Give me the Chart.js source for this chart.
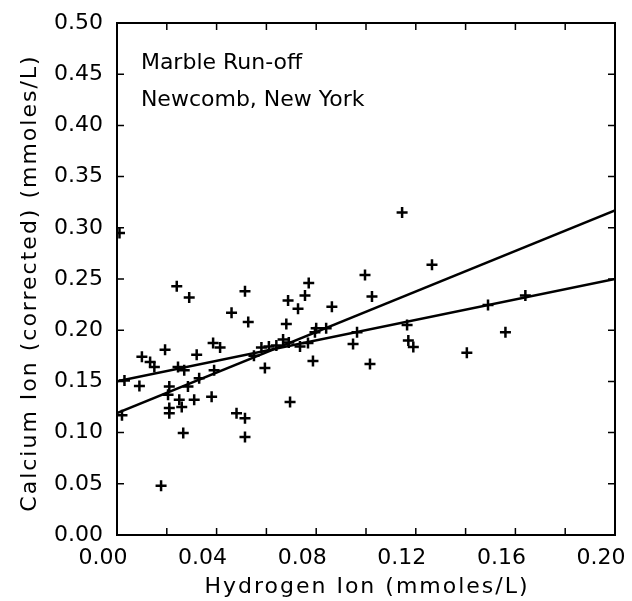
<!DOCTYPE html>
<html>
<head>
<meta charset="utf-8">
<script src="https://cdn.jsdelivr.net/npm/chart.js@4/dist/chart.umd.min.js"></script>
<style>
  html, body { margin: 0; padding: 0; background: #fff; }
  #wrap { width: 632px; height: 601px; }
</style>
</head>
<body>
<div id="wrap"><canvas id="chart-calcium" width="632" height="601"></canvas></div>
<script>
// ---------------- data ----------------
const hydrogenIon = [0.001, 0.024, 0.029, 0.0514, 0.046, 0.0527, 0.010, 0.0193, 0.0133, 0.015,
    0.032, 0.0386, 0.0414, 0.0245, 0.027, 0.003, 0.009, 0.002, 0.021, 0.0205,
    0.021, 0.021, 0.025, 0.026, 0.0285, 0.031, 0.033, 0.039, 0.038, 0.048,
    0.0514, 0.0266, 0.0514, 0.0594, 0.055, 0.058, 0.061, 0.064, 0.0177, 0.1145,
    0.1265, 0.0996, 0.1024, 0.077, 0.0755, 0.0687, 0.0727, 0.0863, 0.068, 0.0667,
    0.069, 0.0735, 0.0767, 0.0795, 0.080, 0.084, 0.0787, 0.0695, 0.0964, 0.0948,
    0.1016, 0.1165, 0.117, 0.119, 0.149, 0.164, 0.156, 0.1405];
const calciumIon = [0.295, 0.243, 0.232, 0.238, 0.217, 0.208, 0.174, 0.181, 0.169, 0.164,
    0.176, 0.1875, 0.183, 0.164, 0.161, 0.151, 0.1455, 0.117, 0.145, 0.137,
    0.124, 0.119, 0.132, 0.125, 0.145, 0.132, 0.153, 0.161, 0.135, 0.119,
    0.114, 0.0996, 0.0957, 0.163, 0.175, 0.183, 0.184, 0.185, 0.048, 0.315,
    0.264, 0.254, 0.233, 0.246, 0.234, 0.229, 0.221, 0.223, 0.206, 0.191,
    0.188, 0.184, 0.1875, 0.198, 0.202, 0.202, 0.170, 0.130, 0.198, 0.1865,
    0.167, 0.205, 0.190, 0.1836, 0.2246, 0.234, 0.198, 0.178];

// two fitted lines
const fitX = [0.0, 0.20];
const fitSteep = [0.119, 0.317];
const fitFlat = [0.150, 0.250];

const xTicks = [0.00, 0.04, 0.08, 0.12, 0.16, 0.20];
const yTicks = [0.00, 0.05, 0.10, 0.15, 0.20, 0.25, 0.30, 0.35, 0.40, 0.45, 0.50];

const xTitle = "Hydrogen Ion (mmoles/L)";
const yTitle = "Calcium Ion (corrected) (mmoles/L)";
const noteLines = ["Marble Run-off", "Newcomb, New York"];
const notePos = [[0.0096, 0.461], [0.0096, 0.425]];

const FONT = "'DejaVu Sans', sans-serif";

// frame, inward tick marks on all four sides, axis titles and the note
const framePlugin = {
    id: 'frame',
    afterDraw(chart) {
        const ctx = chart.ctx;
        const a = chart.chartArea;
        const xs = chart.scales.x, ys = chart.scales.y;
        ctx.save();
        ctx.strokeStyle = '#000';
        ctx.lineWidth = 2;
        ctx.strokeRect(a.left, a.top, a.right - a.left, a.bottom - a.top);
        ctx.lineWidth = 1.5;
        ctx.beginPath();
        xs.ticks.forEach(t => {
            const px = xs.getPixelForValue(t.value);
            ctx.moveTo(px, a.bottom); ctx.lineTo(px, a.bottom - 7);
            ctx.moveTo(px, a.top); ctx.lineTo(px, a.top + 7);
        });
        ys.ticks.forEach(t => {
            const py = ys.getPixelForValue(t.value);
            ctx.moveTo(a.left, py); ctx.lineTo(a.left + 7, py);
            ctx.moveTo(a.right, py); ctx.lineTo(a.right - 7, py);
        });
        ctx.stroke();

        ctx.fillStyle = '#000';
        ctx.textBaseline = 'middle';

        // note
        ctx.font = '22px ' + FONT;
        ctx.textAlign = 'left';
        noteLines.forEach((txt, i) => {
            ctx.fillText(txt, xs.getPixelForValue(notePos[i][0]), ys.getPixelForValue(notePos[i][1]));
        });

        // axis titles, a bit letter-spaced like the original lettering
        ctx.letterSpacing = '2px';
        ctx.textAlign = 'center';
        ctx.fillText(xTitle, (a.left + a.right) / 2 + 1, 587);
        ctx.translate(30, (a.top + a.bottom) / 2 + 4);
        ctx.rotate(-Math.PI / 2);
        ctx.fillText(yTitle, 0, 0);
        ctx.restore();
    }
};

const ctx = document.getElementById('chart-calcium').getContext('2d');
const chart_calcium = new Chart(ctx, {
    type: 'scatter',
    data: {
        datasets: [{
            label: 'samples',
            data: hydrogenIon.map((h, i) => ({ x: h, y: calciumIon[i] })),
            pointStyle: 'cross',
            pointRadius: 5.5,
            borderColor: '#000',
            borderWidth: 2.5,
            showLine: false
        }, {
            label: 'fit 1',
            data: fitX.map((h, i) => ({ x: h, y: fitSteep[i] })),
            showLine: true,
            pointRadius: 0,
            borderColor: '#000',
            borderWidth: 2.5
        }, {
            label: 'fit 2',
            data: fitX.map((h, i) => ({ x: h, y: fitFlat[i] })),
            showLine: true,
            pointRadius: 0,
            borderColor: '#000',
            borderWidth: 2.5
        }]
    },
    options: {
        responsive: false,
        animation: false,
        layout: { padding: { left: 0, right: 17, top: 23, bottom: 0 } },
        plugins: { legend: { display: false }, tooltip: { enabled: false } },
        scales: {
            x: {
                type: 'linear',
                min: 0, max: 0.20,
                border: { display: false },
                grid: { display: false, drawTicks: false },
                ticks: {
                    stepSize: 0.02,
                    color: '#000',
                    font: { family: FONT, size: 22 },
                    padding: 10,
                    labelOffset: -14,
                    maxRotation: 0,
                    autoSkip: false,
                    callback: v => {
                        const hit = xTicks.find(t => Math.abs(t - v) < 1e-6);
                        return hit === undefined ? '' : hit.toFixed(2);
                    }
                },
                afterFit: s => { s.height = 66; s.paddingLeft = 0; s.paddingRight = 0; }
            },
            y: {
                type: 'linear',
                min: 0, max: 0.50,
                border: { display: false },
                grid: { display: false, drawTicks: false },
                ticks: {
                    stepSize: 0.05,
                    color: '#000',
                    font: { family: FONT, size: 22 },
                    padding: 14,
                    autoSkip: false,
                    callback: v => {
                        const hit = yTicks.find(t => Math.abs(t - v) < 1e-6);
                        return hit === undefined ? '' : hit.toFixed(2);
                    }
                },
                afterFit: s => { s.width = 117; s.paddingTop = 0; s.paddingBottom = 0; }
            }
        }
    },
    plugins: [framePlugin]
});
</script>
</body>
</html>
